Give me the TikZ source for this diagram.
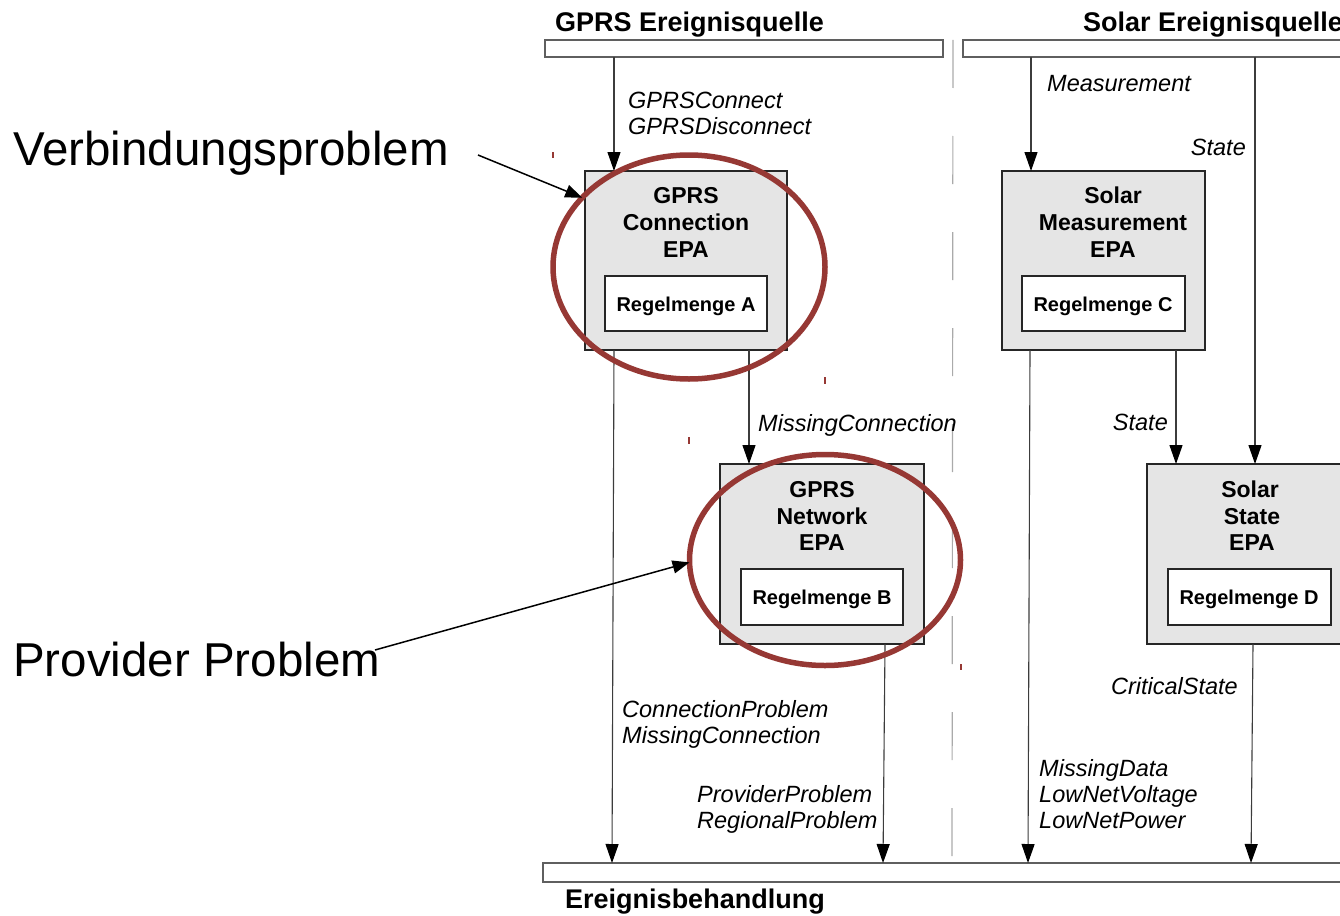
\documentclass[tikz,border=0pt]{standalone}
\usepackage{fontspec}
\setmainfont{Liberation Sans}
\usetikzlibrary{arrows.meta,shapes.geometric,calc}
\definecolor{boxgray}{RGB}{229,229,229}
\definecolor{ringred}{RGB}{150,56,52}
\definecolor{linegray}{RGB}{60,60,60}
\definecolor{sepgray}{RGB}{170,170,170}
\definecolor{bargray}{RGB}{95,95,95}
\begin{document}
\begin{tikzpicture}[x=1pt,y=-1pt,
  epa/.style={draw=black!85, line width=1.1pt, fill=boxgray, anchor=north west, inner sep=0pt, outer sep=0pt},
  rulebox/.style={draw=black!85, line width=1.1pt, fill=white, anchor=north west, inner sep=0pt, outer sep=0pt},
  bar/.style={draw=bargray, line width=1.2pt, fill=white, anchor=north west, inner sep=0pt, outer sep=0pt},
  ttl/.style={font=\fontsize{23}{26}\selectfont\bfseries, inner sep=0pt, anchor=base},
  rul/.style={font=\fontsize{20}{24}\selectfont\bfseries, inner sep=0pt, anchor=base},
  evt/.style={font=\fontsize{23.5}{26}\selectfont\itshape, inner sep=0pt, anchor=base west},
  head/.style={font=\fontsize{27}{30}\selectfont\bfseries, inner sep=0pt, anchor=base west},
  big/.style={font=\fontsize{47.5}{55}\selectfont, inner sep=0pt, anchor=base west},
  arr/.style={draw=linegray, line width=1.1pt, -{Triangle[length=19pt,width=13pt,color=black]}},
  ring/.style={ellipse, draw=ringred, line width=5.5pt, inner sep=0pt, outer sep=0pt},
  ann/.style={draw=black, line width=1.5pt, -{Triangle[length=17pt,width=13pt]}},
  sepline/.style={draw=sepgray, line width=1.2pt, dash pattern=on 48pt off 48pt},
  tick/.style={draw=ringred, line width=1.2pt}
]
\useasboundingbox (0,0) rectangle (1340,915);
\clip (0,0) rectangle (1340,915);

% bars
\node[bar, minimum width=398, minimum height=17] (gbar) at (545,40) {};
\node[bar, minimum width=392, minimum height=17] (sbar) at (963,40) {};
\node[bar, minimum width=810, minimum height=19] (ebar) at (543,863) {};

% headings
\node[head] (hg) at (555,31.5) {GPRS Ereignisquelle};
\node[head] (hs) at (1083,31.5) {Solar Ereignisquelle};
\node[head] (he) at (565,908) {Ereignisbehandlung};

% separator
\draw[sepline] (953,40) -- (952,856);

% EPA boxes
\node[epa, minimum width=202, minimum height=179] (epaA) at (585,171) {};
\node[rulebox, minimum width=162, minimum height=55] (rA) at (605,276) {};
\node[ttl] (tA1) at (686,203) {GPRS};
\node[ttl] (tA2) at (686,230) {Connection};
\node[ttl] (tA3) at (686,257) {EPA};
\node[rul] (lA) at (686,311) {Regelmenge A};

\node[epa, minimum width=204, minimum height=180] (epaB) at (720,464) {};
\node[rulebox, minimum width=162, minimum height=56] (rB) at (741,569) {};
\node[ttl] (tB1) at (822,497) {GPRS};
\node[ttl] (tB2) at (822,524) {Network};
\node[ttl] (tB3) at (822,550) {EPA};
\node[rul] (lB) at (822,604) {Regelmenge B};

\node[epa, minimum width=203, minimum height=179] (epaC) at (1002,171) {};
\node[rulebox, minimum width=163, minimum height=55] (rC) at (1022,276) {};
\node[ttl] (tC1) at (1113,203) {Solar};
\node[ttl] (tC2) at (1113,230) {Measurement};
\node[ttl] (tC3) at (1113,257) {EPA};
\node[rul] (lC) at (1103,311) {Regelmenge C};

\node[epa, minimum width=206, minimum height=180] (epaD) at (1147,464) {};
\node[rulebox, minimum width=163, minimum height=56] (rD) at (1168,569) {};
\node[ttl] (tD1) at (1250,497) {Solar};
\node[ttl] (tD2) at (1252,524) {State};
\node[ttl] (tD3) at (1252,550) {EPA};
\node[rul] (lD) at (1249,604) {Regelmenge D};

% event labels
\node[evt] (e1a) at (628,109) {GPRSConnect};
\node[evt] (e1b) at (628,135) {GPRSDisconnect};
\node[evt] (e5) at (1047,92) {Measurement};
\node[evt, anchor=base east] (e6) at (1246,155) {State};
\node[evt] (e3) at (758,431) {MissingConnection};
\node[evt, anchor=base east] (e7) at (1168,430) {State};
\node[evt, anchor=base east] (e9) at (1238,694) {CriticalState};
\node[evt] (e2a) at (622,717) {ConnectionProblem};
\node[evt] (e2b) at (622,743) {MissingConnection};
\node[evt] (e4a) at (697,802) {ProviderProblem};
\node[evt] (e4b) at (697,828) {RegionalProblem};
\node[evt] (e8a) at (1039,776) {MissingData};
\node[evt] (e8b) at (1039,802) {LowNetVoltage};
\node[evt] (e8c) at (1039,828) {LowNetPower};

% connectors
\draw[arr] ($(epaA.north west|-gbar.south)+(29,0)$) -- ($(epaA.north west)+(29,0)$);
\draw[arr] ($(epaA.south west)+(29,0)$) -- ($(epaA.south west|-ebar.north)+(27,0)$);
\draw[arr] ($(epaB.north west|-epaA.south)+(29,0)$) -- ($(epaB.north west)+(29,0)$);
\draw[arr] ($(epaB.south east)+(-39,0)$) -- ($(epaB.south east|-ebar.north)+(-41,0)$);
\draw[arr] ($(epaC.north west|-sbar.south)+(29,0)$) -- ($(epaC.north west)+(29,0)$);
\draw[arr] ($(epaD.north west|-sbar.south)+(108,0)$) -- ($(epaD.north west)+(108,0)$);
\draw[arr] ($(epaD.north west|-epaC.south)+(29,0)$) -- ($(epaD.north west)+(29,0)$);
\draw[arr] ($(epaC.south west)+(28,0)$) -- ($(epaC.south west|-ebar.north)+(26,0)$);
\draw[arr] ($(epaD.south west)+(106,0)$) -- ($(epaD.south west|-ebar.north)+(104,0)$);

% small marks
\draw[tick] (553,152) -- (553,158);
\draw[tick] (825,377) -- (825,384);
\draw[tick] (689,437) -- (689,444);
\draw[tick] (961,664) -- (961,670);

% rings
\node[ring, minimum width=272, minimum height=224] (ell1) at (689,267) {};
\node[ring, minimum width=271, minimum height=211] (ell2) at (825,560) {};

% annotations
\node[big] (verb) at (13,165) {Verbindungsproblem};
\node[big] (prov) at (13,676) {Provider Problem};
\coordinate (a1s) at (478,155);
\coordinate (a2s) at (375,650);
\draw[ann] (a1s) -- (ell1.147);
\draw[ann] (a2s) -- (ell2.181);
\end{tikzpicture}
\end{document}
